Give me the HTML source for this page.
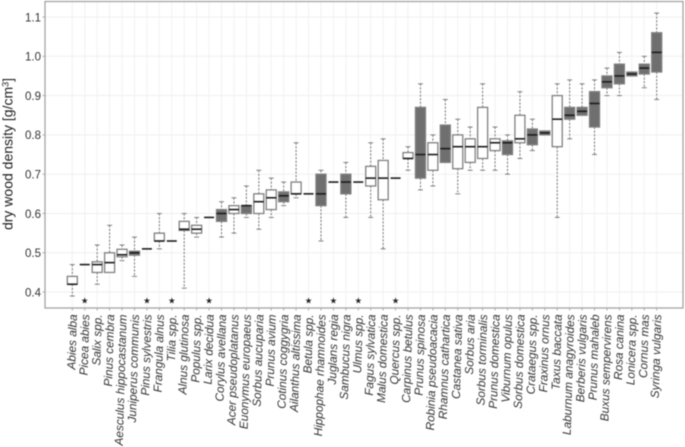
<!DOCTYPE html>
<html lang="en">
<head>
<meta charset="utf-8">
<title>Dry wood density by species</title>
<style>
html,body{margin:0;padding:0;background:#fff;width:685px;height:447px;overflow:hidden}
svg{display:block;filter:blur(0.4px)}
text{font-family:"Liberation Sans",sans-serif;fill:#333}
</style>
</head>
<body>
<svg id="chart" width="685" height="447" viewBox="0 0 685 447" xmlns="http://www.w3.org/2000/svg">
<text transform="translate(12.5,154) rotate(-90)" text-anchor="middle" font-size="14" style="fill:#222">dry wood density [g/cm<tspan font-size="9" dy="-4">3</tspan><tspan dy="4">]</tspan></text>
</svg>
<script>
const categories = ["Abies alba","Picea abies","Salix spp.","Pinus cembra","Aesculus hippocastanum","Juniperus communis","Pinus sylvestris","Frangula alnus","Tilia spp.","Alnus glutinosa","Populus spp.","Larix decidua","Corylus avellana","Acer pseudoplatanus","Euonymus europaeus","Sorbus aucuparia","Prunus avium","Cotinus coggygria","Ailanthus altissima","Betula spp.","Hippophae rhamnoides","Juglans regia","Sambucus nigra","Ulmus spp.","Fagus sylvatica","Malus domestica","Quercus spp.","Carpinus betulus","Prunus spinosa","Robinia pseudoacacia","Rhamnus cathartica","Castanea sativa","Sorbus aria","Sorbus torminalis","Prunus domestica","Viburnum opulus","Sorbus domestica","Crataegus spp.","Fraxinus ornus","Taxus baccata","Laburnum anagyroides","Berberis vulgaris","Prunus mahaleb","Buxus sempervirens","Rosa canina","Lonicera spp.","Cornus mas","Syringa vulgaris"];
const q1 = [0.42,0.47,0.45,0.45,0.49,0.494,0.51,0.53,0.53,0.557,0.55,0.59,0.58,0.60,0.60,0.60,0.61,0.63,0.65,0.65,0.62,0.68,0.65,0.68,0.67,0.635,0.69,0.74,0.69,0.71,0.73,0.714,0.73,0.74,0.76,0.75,0.78,0.775,0.80,0.77,0.84,0.85,0.82,0.92,0.93,0.95,0.955,0.96];
const medians = [0.42,0.47,0.47,0.475,0.495,0.50,0.51,0.53,0.53,0.56,0.56,0.59,0.60,0.61,0.62,0.63,0.64,0.645,0.65,0.65,0.65,0.68,0.68,0.68,0.69,0.69,0.69,0.74,0.75,0.75,0.765,0.77,0.77,0.77,0.78,0.78,0.79,0.80,0.805,0.84,0.85,0.86,0.88,0.935,0.95,0.955,0.97,1.01];
const q3 = [0.44,0.47,0.477,0.50,0.509,0.504,0.51,0.55,0.53,0.58,0.57,0.59,0.61,0.62,0.62,0.65,0.66,0.655,0.68,0.65,0.70,0.68,0.70,0.68,0.72,0.735,0.69,0.755,0.87,0.78,0.825,0.80,0.79,0.87,0.79,0.785,0.85,0.815,0.81,0.90,0.87,0.87,0.91,0.95,0.98,0.96,0.98,1.06];
const whiskerLow = [0.39,null,0.42,null,0.48,0.44,null,0.51,null,0.41,0.54,null,0.54,0.55,0.59,0.56,0.59,0.62,0.64,null,0.53,null,0.59,null,0.59,0.51,null,0.71,0.66,0.67,null,0.65,0.71,0.71,0.71,0.70,0.74,0.76,null,0.59,0.79,null,0.75,0.90,0.90,null,0.92,0.89];
const whiskerHigh = [0.47,null,0.52,0.57,0.52,0.54,null,0.60,null,0.60,0.59,null,0.63,0.64,0.67,0.71,0.69,0.68,0.78,null,0.71,null,0.73,null,0.78,0.79,null,0.77,0.93,0.80,0.89,0.84,0.82,0.93,0.82,0.80,0.91,0.84,null,0.93,0.94,0.93,0.94,0.97,1.01,null,1.00,1.11];
const filled = [0,0,0,0,0,1,0,0,0,0,0,0,1,0,1,0,0,1,0,0,1,0,1,0,0,0,0,0,1,0,1,0,0,0,0,1,0,1,1,0,1,1,1,1,1,1,1,1];
const starred = [0,1,0,0,0,0,1,0,1,0,0,1,0,0,0,0,0,0,0,1,0,1,0,1,0,0,1,0,0,0,0,0,0,0,0,0,0,0,0,0,0,0,0,0,0,0,0,0];
const yTicks = ["0.4","0.5","0.6","0.7","0.8","0.9","1.0","1.1"];

const svg = document.getElementById('chart');
const NS = 'http://www.w3.org/2000/svg';
const panel = {left:45, right:683, top:1.5, bottom:308};
const xScale = i => 72.3 + i * 12.434;
const yScale = v => 17 + (1.1 - v) * 393;
const BOX_W = 10;

function make(tag, attrs, parent) {
  const el = document.createElementNS(NS, tag);
  for (const k in attrs) el.setAttribute(k, attrs[k]);
  (parent || svg).appendChild(el);
  return el;
}

const gridGroup = make('g', {});


const tickGroup = make('g', {});



yTicks.forEach(t => {
  const y = yScale(parseFloat(t));
  make('line', {x1:panel.left, x2:panel.right, y1:y, y2:y, stroke:'#efefef', 'stroke-width':1}, gridGroup);
  make('line', {x1:panel.left-2.5, x2:panel.left, y1:y, y2:y, stroke:'#999', 'stroke-width':0.8}, tickGroup);
  const label = make('text', {x:41, y:y+4.3, 'text-anchor':'end', 'font-size':11.5}, tickGroup);
  
  
  label.textContent = t;
});

categories.forEach((name, i) => {
  const x = xScale(i);
  make('line', {x1:x, x2:x, y1:panel.top, y2:panel.bottom, stroke:'#f1f1f1', 'stroke-width':1}, gridGroup);
  make('line', {x1:x, x2:x, y1:panel.bottom, y2:panel.bottom+2.5, stroke:'#999', 'stroke-width':0.8}, tickGroup);
  const label = make('text', {'text-anchor':'end', 'font-size':11.8, 'font-style':'italic', transform:`translate(${x+4.6},314.5) rotate(-88.3)`}, tickGroup);
  
  
  label.textContent = name;
});

categories.forEach((name, i) => {
  const x = xScale(i);
  const g = make('g', {});
  
  
  const top = yScale(q3[i]);
  const bot = yScale(q1[i]);
  const med = yScale(medians[i]);
  if (whiskerHigh[i] !== null) {
    const yh = yScale(whiskerHigh[i]);
    make('line', {x1:x, x2:x, y1:yh, y2:top, stroke:'#666', 'stroke-width':0.9, 'stroke-dasharray':'2 1.6'}, g);
    make('line', {x1:x-2.5, x2:x+2.5, y1:yh, y2:yh, stroke:'#777', 'stroke-width':0.9}, g);
  }
  if (whiskerLow[i] !== null) {
    const yl = yScale(whiskerLow[i]);
    make('line', {x1:x, x2:x, y1:bot, y2:yl, stroke:'#666', 'stroke-width':0.9, 'stroke-dasharray':'2 1.6'}, g);
    make('line', {x1:x-2.5, x2:x+2.5, y1:yl, y2:yl, stroke:'#777', 'stroke-width':0.9}, g);
  }
  if (bot - top > 0.5) {
    make('rect', {x:x-BOX_W/2, y:top, width:BOX_W, height:bot-top, fill:filled[i] ? '#6f6f6f' : '#fff', stroke:'#808080', 'stroke-width':1.3}, g);
  }
  make('line', {x1:x-BOX_W/2, x2:x+BOX_W/2, y1:med, y2:med, stroke:'#1c1c1c', 'stroke-width':1.6}, g);
  if (starred[i]) {
    const star = make('text', {x:x, y:303.3, 'text-anchor':'middle', 'font-size':8.5, style:'fill:#222;font-family:"DejaVu Sans",sans-serif'});
    
    
    star.textContent = '★';
  }
});

const frame = make('rect', {x:panel.left, y:panel.top, width:panel.right-panel.left, height:panel.bottom-panel.top, fill:'none', stroke:'#a3a3a3', 'stroke-width':1.3});


</script>
</body>
</html>
